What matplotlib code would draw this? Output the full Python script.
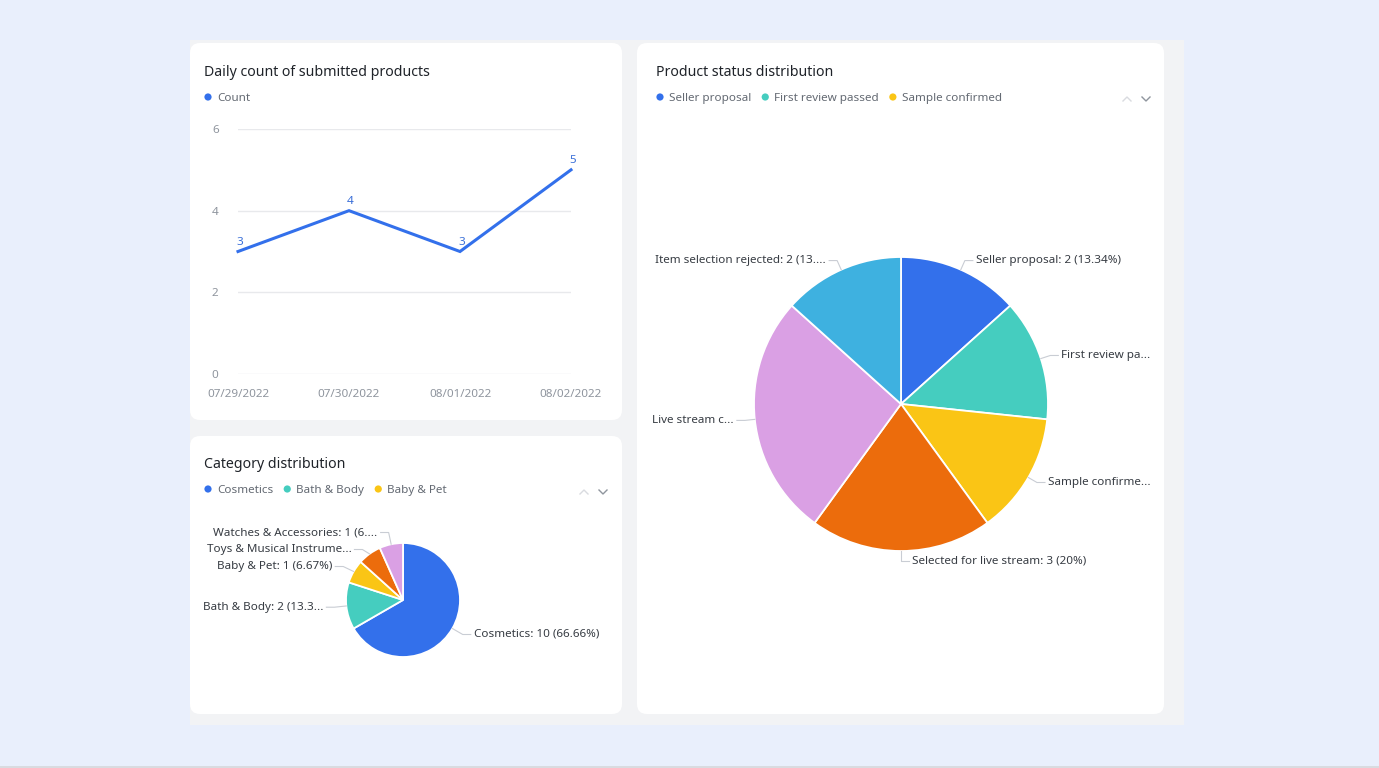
import matplotlib
matplotlib.use("Agg")
import matplotlib.pyplot as plt
from matplotlib.patches import FancyBboxPatch, Rectangle, Circle
import numpy as np

plt.rcParams["font.family"] = ["Noto Sans", "DejaVu Sans"]

# ---- data ----
dates = ["07/29/2022", "07/30/2022", "08/01/2022", "08/02/2022"]
counts = [3, 4, 3, 5]
y_ticks = [0, 2, 4, 6]

cat_names = ["Cosmetics", "Bath & Body", "Baby & Pet", "Toys & Musical Instruments", "Watches & Accessories"]
cat_values = [10, 2, 1, 1, 1]
cat_labels = ["Cosmetics: 10 (66.66%)", "Bath & Body: 2 (13.3...", "Baby & Pet: 1 (6.67%)",
              "Toys & Musical Instrume...", "Watches & Accessories: 1 (6...."]

status_names = ["Seller proposal", "First review passed", "Sample confirmed",
                "Selected for live stream", "Live stream completed", "Item selection rejected"]
status_values = [2, 2, 2, 3, 4, 2]
status_labels = ["Seller proposal: 2 (13.34%)", "First review pa...", "Sample confirme...",
                 "Selected for live stream: 3 (20%)", "Live stream c...", "Item selection rejected: 2 (13...."]

colors = ["#3370eb", "#45cdbf", "#fac515", "#ec6c0c", "#daa0e4", "#3eb1e0"]

W, H = 1379, 768
fig = plt.figure(figsize=(W / 100, H / 100), dpi=100)
fig.patch.set_facecolor("#e9effc")

# background axes in pixel units (y up)
bg = fig.add_axes([0, 0, 1, 1])
bg.set_xlim(0, W)
bg.set_ylim(0, H)
bg.axis("off")


def Y(y):
    return H - y


def panel(x0, y0, x1, y1):
    bg.add_patch(FancyBboxPatch((x0, Y(y1)), x1 - x0, y1 - y0,
                                boxstyle="round,pad=0,rounding_size=10",
                                fc="white", ec="none", zorder=1))


bg.add_patch(Rectangle((190, Y(725)), 994, 685, fc="#f2f3f5", ec="none", zorder=0))
bg.add_patch(Rectangle((0, 0), W, 2, fc="#d9dbe0", ec="none", zorder=0))
panel(190, 43, 622, 420)
panel(190, 436, 622, 714)
panel(637, 43, 1164, 714)

title_kw = dict(fontsize=10.2, color="#1f2329", va="center", ha="left", zorder=5)
bg.text(204, Y(73), "Daily count of submitted products", **title_kw)
bg.text(204, Y(465), "Category distribution", **title_kw)
bg.text(656, Y(73), "Product status distribution", **title_kw)

fig.canvas.draw()
renderer = fig.canvas.get_renderer()


def legend(x, y, names, cols):
    for name, c in zip(names, cols):
        bg.add_patch(Circle((x + 4, Y(y)), 3.6, fc=c, ec="none", zorder=5))
        t = bg.text(x + 13, Y(y + 1.5), name, fontsize=8.4, color="#646a73", va="center", ha="left", zorder=5)
        bb = t.get_window_extent(renderer)
        x = bb.x1 + 10


def chevrons(x, y):
    bg.plot([x - 4, x, x + 4], [Y(y) - 2, Y(y) + 2, Y(y) - 2], color="#d9dbe0", lw=1, zorder=5)
    x2 = x + 19
    bg.plot([x2 - 4, x2, x2 + 4], [Y(y) + 2, Y(y) - 2, Y(y) + 2], color="#8f959e", lw=1, zorder=5)


legend(204, 97, ["Count"], [colors[0]])
legend(204, 489, cat_names[:3], colors[:3])
legend(656, 97, status_names[:3], colors[:3])
chevrons(584, 492)
chevrons(1127, 99)

# ---- line chart ----
ax = fig.add_axes([238 / W, Y(374) / H, (571 - 238) / W, (374 - 129) / H])
ax.set_facecolor("none")
x = np.arange(len(dates))
ax.plot(x, counts, color=colors[0], lw=2.2, solid_joinstyle="miter", zorder=3, clip_on=False)
for xi, v in zip(x, counts):
    ax.annotate(str(v), (xi, v), xytext=(1, 2.5), textcoords="offset points",
                ha="center", va="bottom", fontsize=8.4, color="#3a6fd8")
ax.set_xlim(0, len(dates) - 1)
ax.set_ylim(0, 6)
ax.set_yticks(y_ticks)
ax.set_xticks(x, dates)
ax.grid(axis="y", color="#e8e9ec", lw=1)
ax.set_axisbelow(True)
for s in ax.spines.values():
    s.set_visible(False)
ax.tick_params(length=0, labelsize=8.4, labelcolor="#8f959e")
ax.tick_params(axis="y", pad=14)
ax.tick_params(axis="x", pad=11)


# ---- pies ----
def pie(values, labels, cx, cy, r, l1, l2, gap):
    wedges, _ = bg.pie(values, colors=colors[:len(values)], startangle=90, counterclock=False,
                       center=(cx, Y(cy)), radius=r,
                       wedgeprops=dict(edgecolor="white", linewidth=1.3))
    items = []
    for w, lab in zip(wedges, labels):
        a = np.deg2rad((w.theta1 + w.theta2) / 2)
        side = 1 if np.cos(a) > -1e-6 else -1
        p0 = (cx + r * np.cos(a), Y(cy) + r * np.sin(a))
        p1 = (cx + (r + l1) * np.cos(a), Y(cy) + (r + l1) * np.sin(a))
        items.append([side, p0, p1, lab])
    # keep labels on each side apart
    for side in (1, -1):
        group = sorted([it for it in items if it[0] == side], key=lambda it: -it[2][1])
        for i in range(1, len(group)):
            prev_y = group[i - 1][2][1]
            if prev_y - group[i][2][1] < gap:
                group[i][2] = (group[i][2][0], prev_y - gap)
    for side, p0, p1, lab in items:
        p2 = (p1[0] + side * l2, p1[1])
        bg.plot([p0[0], p1[0], p2[0]], [p0[1], p1[1], p2[1]], color="#c9cdd4", lw=0.8, zorder=4)
        bg.text(p2[0] + side * 3, p2[1], lab, fontsize=8.4, color="#373c43",
                ha="left" if side > 0 else "right", va="center", zorder=5)


pie(status_values, status_labels, 901, 404, 147, 10, 8, 18)
pie(cat_values, cat_labels, 403, 600, 57, 12, 8, 17)
bg.set_xlim(0, W)
bg.set_ylim(0, H)
bg.set_aspect("auto")
bg.axis("off")

fig.savefig("out.png", dpi=100, facecolor=fig.get_facecolor())
